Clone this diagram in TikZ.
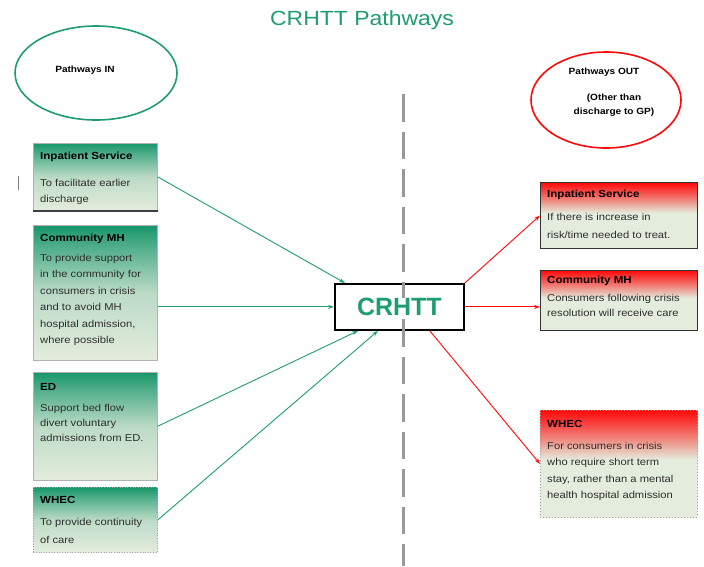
\documentclass[tikz,border=0pt]{standalone}
\usepackage{fontspec}
\setmainfont{Liberation Sans}
\newfontfamily\widefont{Liberation Sans}[FakeStretch=1.12]
\usetikzlibrary{arrows.meta,calc,shapes.geometric}
\definecolor{gmain}{HTML}{1E9E6E}
\definecolor{gtop}{HTML}{17966A}
\definecolor{lightg}{HTML}{E4ECDD}
\definecolor{rtop}{HTML}{FF0A0A}
\definecolor{bodytxt}{HTML}{2E2E2E}
\pgfdeclareverticalshading{greenfade}{100bp}{color(0bp)=(lightg); color(25bp)=(lightg); color(50bp)=(lightg!80!gtop); color(68bp)=(gtop!75!lightg); color(75bp)=(gtop); color(100bp)=(gtop)}
\pgfdeclareverticalshading{redfade}{100bp}{color(0bp)=(lightg); color(25bp)=(lightg); color(52bp)=(lightg); color(64bp)=(rtop!55!lightg); color(75bp)=(rtop); color(100bp)=(rtop)}
\tikzset{
  inbox/.style={draw=gray!60, line width=0.6pt, shading=greenfade, anchor=north west, inner sep=0pt, minimum width=124pt},
  outbox/.style={draw=black!80, line width=1pt, shading=redfade, anchor=north west, inner sep=0pt, minimum width=157pt},
  dotbox/.style={draw=gray!70, dotted, line width=0.8pt},
  boxtitle/.style={anchor=west, font=\widefont\fontsize{10.3}{12}\selectfont\bfseries, inner sep=0pt},
  boxbody/.style={anchor=north west, align=left, text=bodytxt, inner sep=0pt},
  bsp/.style={font=\widefont\fontsize{10}{#1}\selectfont},
  garrow/.style={draw=gmain, line width=0.9pt, -{Stealth[length=6pt,width=4pt]}},
  rarrow/.style={draw=rtop, line width=0.9pt, -{Stealth[length=6pt,width=4pt]}},
  elltext/.style={font=\widefont\fontsize{9}{14}\selectfont\bfseries, align=center, inner sep=0pt},
}
\begin{document}
\begin{tikzpicture}[x=1pt,y=-1pt]
\useasboundingbox[fill=white] (0,0) rectangle (704,566);
% title
\node[text=gmain, font=\widefont\fontsize{20.5}{24}\selectfont] (title) at (362,20) {CRHTT Pathways};
% ellipses
\node[draw=gmain, line width=1.6pt, ellipse, minimum width=162pt, minimum height=94pt, inner sep=0pt] (ein) at (96,73) {};
\node[elltext] (eintxt) at (85,70) {Pathways IN};
\node[draw=rtop, line width=1.6pt, ellipse, minimum width=150pt, minimum height=96pt, inner sep=0pt] (eout) at (606,100) {};
\node[elltext] (eouttxt) at (604,72) {Pathways OUT};
\node[elltext] (eouttxt2) at (614,105) {(Other than\\discharge to GP)};
% small mark
\draw[gray, line width=0.8pt] (18,176) -- (18,190);
% left boxes
\node[inbox, minimum height=67pt] (L1) at (33,143) {};
\draw[black!75, line width=2pt] (L1.south west) -- (L1.south east);
\node[boxtitle] (L1t) at (40,157) {Inpatient Service};
\node[boxbody, bsp=16] (L1b) at (40,179) {To facilitate earlier\\discharge};
\node[inbox, minimum height=135pt] (L2) at (33,225) {};
\node[boxtitle] (L2t) at (40,239) {Community MH};
\node[boxbody, bsp=16.5] (L2b) at (40,254) {To provide support\\in the community for\\consumers in crisis\\and to avoid MH\\hospital admission,\\where possible};
\node[inbox, minimum height=108pt] (L3) at (33,372) {};
\node[boxtitle] (L3t) at (40,387) {ED};
\node[boxbody, bsp=15] (L3b) at (40,404) {Support bed flow\\divert voluntary\\admissions from ED.};
\node[inbox, dotbox, minimum height=65pt] (L4) at (33,487) {};
\node[boxtitle] (L4t) at (40,500) {WHEC};
\node[boxbody, bsp=18] (L4b) at (40,518) {To provide continuity\\of care};
% right boxes
\node[outbox, minimum height=66pt] (R1) at (540,182) {};
\node[boxtitle] (R1t) at (547,195) {Inpatient Service};
\node[boxbody, bsp=18] (R1b) at (547,213) {If there is increase in\\risk/time needed to treat.};
\node[outbox, minimum height=60pt] (R2) at (540,270) {};
\node[boxtitle] (R2t) at (547,281) {Community MH};
\node[boxbody, bsp=15] (R2b) at (547,294) {Consumers following crisis\\resolution will receive care};
\node[outbox, dotbox, minimum height=107pt] (R3) at (540,410) {};
\node[boxtitle] (R3t) at (547,424) {WHEC};
\node[boxbody, bsp=16.3] (R3b) at (547,442) {For consumers in crisis\\who require short term\\stay, rather than a mental\\health hospital admission};
% centre
\node[draw=black, line width=1.8pt, fill=white, minimum width=129pt, minimum height=46pt, inner sep=0pt, anchor=north west] (C) at (334,283) {};
\draw[gray!80, line width=3pt, dash pattern=on 27.5pt off 10pt] (403,94) -- (403,566);
\node[text=gmain, fill=white, inner sep=0pt, font=\fontsize{25}{30}\selectfont\bfseries] (Ct) at (C.center) {CRHTT};
% arrows in
\draw[garrow] (L1.east) -- ($(C.north west)+(11,0)$);
\draw[garrow] (L2.east |- C.west) -- (C.west);
\draw[garrow] (L3.east) -- ($(C.south west)+(24,0)$);
\draw[garrow] (L4.east) -- ($(C.south west)+(44,0)$);
% arrows out
\draw[rarrow] (C.north east) -- (R1.west);
\draw[rarrow] (C.east) -- (R2.west |- C.east);
\draw[rarrow] ($(C.south east)+(-35,0)$) -- (R3.west);
\end{tikzpicture}
\end{document}
